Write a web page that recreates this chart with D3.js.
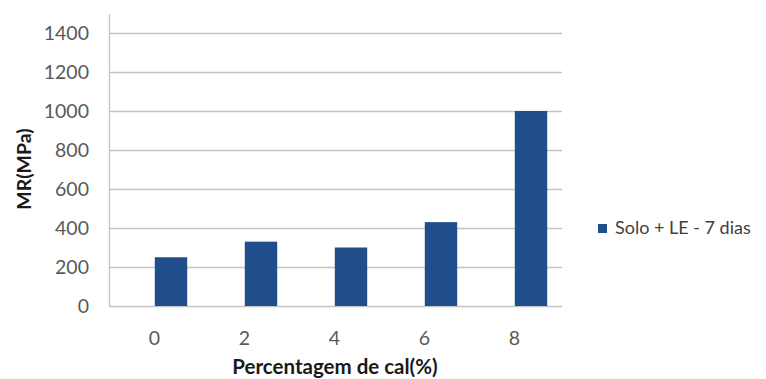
<!DOCTYPE html>
<html>
<head>
<meta charset="utf-8">
<script src="https://cdn.jsdelivr.net/npm/d3@7"></script>
<style>
  html, body { margin: 0; padding: 0; background: #fff; }
  svg { display: block; font-family: Lato, "Open Sans", sans-serif; }
</style>
</head>
<body>
<svg id="chart" width="766" height="379"></svg>
<script>
// Percentage of lime (x) and resilient modulus in MPa (y)
const categories = ["0", "2", "4", "6", "8"];
const values = [250, 330, 300, 430, 1000];
const yTicks = [0, 200, 400, 600, 800, 1000, 1200, 1400];
const seriesName = "Solo + LE - 7 dias";

const svg = d3.select("#chart");
const plot = { left: 109, right: 562, top: 14, bottom: 306 };

const x = d3.scaleBand()
  .domain(categories)
  .range([126, 576])
  .paddingInner(0.64)
  .paddingOuter(0.32);

const y = d3.scaleLinear()
  .domain([0, 1400])
  .range([plot.bottom, 33]);

// horizontal gridlines
svg.append("g")
  .selectAll("line")
  .data(yTicks)
  .join("line")
  .attr("x1", plot.left).attr("x2", plot.right)
  .attr("y1", d => y(d) + 0.5).attr("y2", d => y(d) + 0.5)
  .attr("stroke", "#c4c4c4").attr("stroke-width", 1.3);

// vertical axis line
svg.append("line")
  .attr("x1", plot.left + 0.5).attr("x2", plot.left + 0.5)
  .attr("y1", plot.top).attr("y2", plot.bottom)
  .attr("stroke", "#c4c4c4").attr("stroke-width", 1.3);

// y tick labels
const yAxis = d3.axisLeft(y).tickValues(yTicks).tickFormat(d3.format("d")).tickSize(0).tickPadding(0);
const gy = svg.append("g").attr("transform", `translate(${plot.left - 20},0)`).call(yAxis);
gy.select(".domain").remove();
gy.selectAll("text")
  .attr("font-family", "Lato, 'Open Sans', sans-serif")
  .attr("font-size", 19.5).attr("fill", "#595959");

// x tick labels (sit slightly left of the bar centres)
const xAxis = d3.axisBottom(x).tickSize(0).tickPadding(0);
const gx = svg.append("g").attr("transform", `translate(0,${plot.bottom + 25})`).call(xAxis);
gx.select(".domain").remove();
gx.selectAll("text")
  .attr("dx", -16.5)
  .attr("font-family", "Lato, 'Open Sans', sans-serif")
  .attr("font-size", 19.5).attr("fill", "#595959");

// bars
svg.append("g")
  .selectAll("rect")
  .data(values)
  .join("rect")
  .attr("x", (d, i) => x(categories[i]))
  .attr("width", x.bandwidth())
  .attr("y", d => y(d))
  .attr("height", d => y(0) - y(d))
  .attr("fill", "#1f4e8a");

// axis titles
svg.append("text")
  .attr("x", 335)
  .attr("y", 374)
  .attr("text-anchor", "middle")
  .attr("font-size", 20.5).attr("font-weight", "bold").attr("fill", "#1a1a1a")
  .text("Percentagem de cal(%)");

svg.append("text")
  .attr("transform", "translate(31,169) rotate(-90)")
  .attr("text-anchor", "middle")
  .attr("font-size", 19.5).attr("font-weight", "bold").attr("fill", "#1a1a1a")
  .text("MR(MPa)");

// legend
const legend = svg.append("g").attr("transform", "translate(598,224)");
legend.append("rect").attr("width", 9).attr("height", 9).attr("fill", "#1f4e8a");
legend.append("text")
  .attr("x", 17).attr("y", 10)
  .attr("font-size", 18).attr("fill", "#404040")
  .text(seriesName);
</script>
</body>
</html>
